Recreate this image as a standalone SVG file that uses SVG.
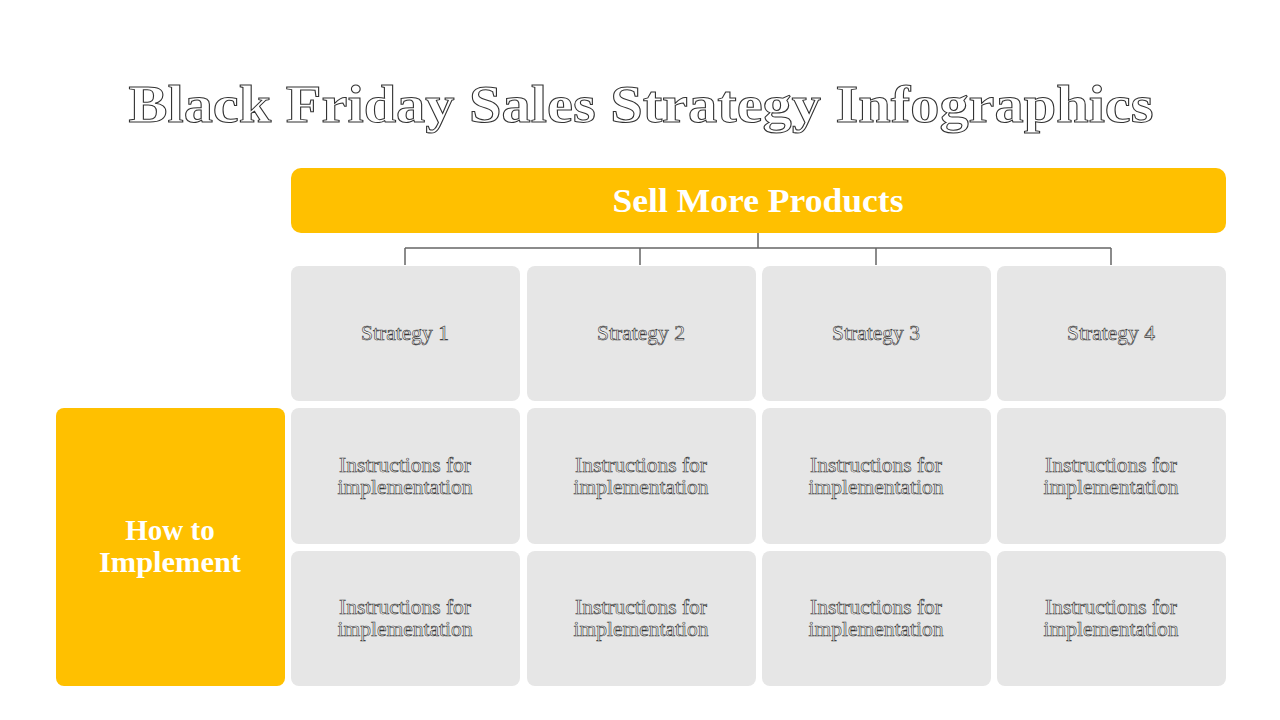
<svg xmlns="http://www.w3.org/2000/svg" width="1280" height="720" viewBox="0 0 1280 720">
<style>
.title{font-family:"Liberation Serif","DejaVu Serif",serif;font-weight:bold;font-size:52px;fill:#fff;stroke:#333;stroke-width:1;text-anchor:middle}
.yel{fill:#FFC000}
.cell{fill:#e6e6e6}
.ylab{font-family:"Liberation Serif","DejaVu Serif",serif;font-weight:bold;fill:#fff;text-anchor:middle}
.ct{font-family:"Liberation Serif","DejaVu Serif",serif;font-size:21.5px;fill:#f4f4f4;stroke:#333;stroke-width:0.6;text-anchor:middle}
.conn{fill:none;stroke:#666;stroke-width:1.5}
</style>
<rect width="1280" height="720" fill="#fff"/>
<text class="title" x="641" y="122" textLength="1025" lengthAdjust="spacingAndGlyphs">Black Friday Sales Strategy Infographics</text>
<g id="top">
<rect class="yel" x="291" y="168" width="935" height="65" rx="10"/>
<text class="ylab" x="758" y="212" font-size="33" textLength="291" lengthAdjust="spacingAndGlyphs">Sell More Products</text>
</g>
<g id="connectors">
<path class="conn" d="M758 233V248M405 248H1111M405 248V265M640 248V265M876 248V265M1111 248V265"/>
</g>
<g id="left">
<rect class="yel" x="56" y="408" width="229" height="278" rx="8"/>
<text class="ylab" x="170" y="540" font-size="29">How to</text>
<text class="ylab" x="170" y="572" font-size="29" textLength="142" lengthAdjust="spacingAndGlyphs">Implement</text>
</g>
<g id="s1"><rect class="cell" x="291" y="266" width="229" height="135" rx="8"/><text class="ct" x="405" y="340">Strategy 1</text></g>
<g id="s2"><rect class="cell" x="527" y="266" width="229" height="135" rx="8"/><text class="ct" x="641" y="340">Strategy 2</text></g>
<g id="s3"><rect class="cell" x="762" y="266" width="229" height="135" rx="8"/><text class="ct" x="876" y="340">Strategy 3</text></g>
<g id="s4"><rect class="cell" x="997" y="266" width="229" height="135" rx="8"/><text class="ct" x="1111" y="340">Strategy 4</text></g>
<g id="i11"><rect class="cell" x="291" y="408" width="229" height="136" rx="8"/><text class="ct" x="405" y="472">Instructions for</text><text class="ct" x="405" y="494">implementation</text></g>
<g id="i12"><rect class="cell" x="527" y="408" width="229" height="136" rx="8"/><text class="ct" x="641" y="472">Instructions for</text><text class="ct" x="641" y="494">implementation</text></g>
<g id="i13"><rect class="cell" x="762" y="408" width="229" height="136" rx="8"/><text class="ct" x="876" y="472">Instructions for</text><text class="ct" x="876" y="494">implementation</text></g>
<g id="i14"><rect class="cell" x="997" y="408" width="229" height="136" rx="8"/><text class="ct" x="1111" y="472">Instructions for</text><text class="ct" x="1111" y="494">implementation</text></g>
<g id="i21"><rect class="cell" x="291" y="551" width="229" height="135" rx="8"/><text class="ct" x="405" y="614">Instructions for</text><text class="ct" x="405" y="636">implementation</text></g>
<g id="i22"><rect class="cell" x="527" y="551" width="229" height="135" rx="8"/><text class="ct" x="641" y="614">Instructions for</text><text class="ct" x="641" y="636">implementation</text></g>
<g id="i23"><rect class="cell" x="762" y="551" width="229" height="135" rx="8"/><text class="ct" x="876" y="614">Instructions for</text><text class="ct" x="876" y="636">implementation</text></g>
<g id="i24"><rect class="cell" x="997" y="551" width="229" height="135" rx="8"/><text class="ct" x="1111" y="614">Instructions for</text><text class="ct" x="1111" y="636">implementation</text></g>
</svg>
